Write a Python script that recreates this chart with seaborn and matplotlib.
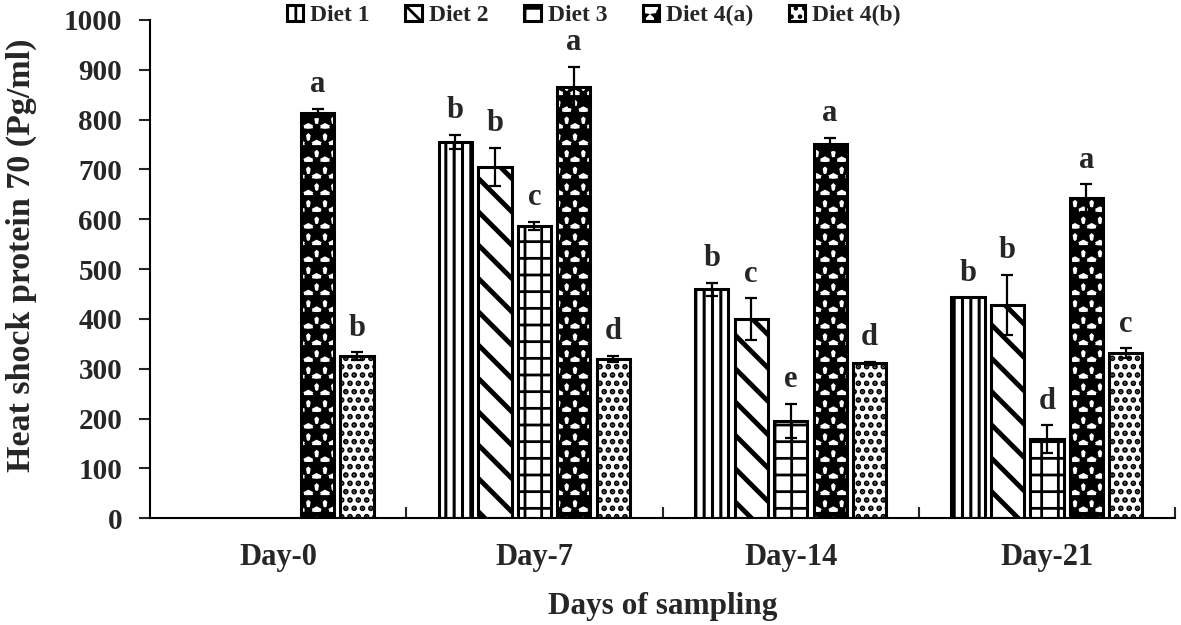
import numpy as np
import pandas as pd
import matplotlib
matplotlib.use("Agg")
import matplotlib.pyplot as plt
import seaborn as sns

# data
days = ["Day-0", "Day-7", "Day-14", "Day-21"]
diets = ["Diet 1", "Diet 2", "Diet 3", "Diet 4(a)", "Diet 4(b)"]

diet1 = [np.nan, 755, 459, 443]
diet2 = [np.nan, 705, 399, 428]
diet3 = [np.nan, 587, 195, 158]
diet4a = [813, 866, 751, 642]
diet4b = [325, 320, 311, 331]

diet1_err = [np.nan, 14, 14, 0]
diet2_err = [np.nan, 39, 42, 61]
diet3_err = [np.nan, 8, 35, 28]
diet4a_err = [8, 40, 12, 28]
diet4b_err = [8, 6, 3, 10]

diet1_lab = ["", "b", "b", "b"]
diet2_lab = ["", "b", "c", "b"]
diet3_lab = ["", "c", "e", "d"]
diet4a_lab = ["a", "a", "a", "a"]
diet4b_lab = ["b", "d", "d", "c"]

values = [diet1, diet2, diet3, diet4a, diet4b]
errors = [diet1_err, diet2_err, diet3_err, diet4a_err, diet4b_err]
letters = [diet1_lab, diet2_lab, diet3_lab, diet4a_lab, diet4b_lab]
hatches = ["||", "\\", "+", "*", ".."]
hatch_lw = [2.2, 3.5, 2.0, 4.5, 2.8]

rows = []
for d, vals in zip(diets, values):
    for day, v in zip(days, vals):
        rows.append({"day": day, "diet": d, "value": v})
df = pd.DataFrame(rows)

sns.set_theme(style="ticks")
plt.rcParams["font.family"] = ["Liberation Serif", "DejaVu Serif"]
plt.rcParams["font.weight"] = "bold"
plt.rcParams["hatch.linewidth"] = 2.0
plt.rcParams["hatch.color"] = "black"

fig, ax = plt.subplots(figsize=(11.81, 6.25), dpi=100)
fig.subplots_adjust(left=0.127, right=0.995, bottom=0.171, top=0.968)

sns.barplot(
    data=df, x="day", y="value", hue="diet",
    order=days, hue_order=diets,
    width=0.77, gap=0.16, errorbar=None,
    palette=["white"] * 5,
    edgecolor="black", linewidth=2.2, ax=ax,
)

bar_groups = list(ax.containers)
for i, cont in enumerate(bar_groups):
    for bar in cont:
        bar.set_hatch(hatches[i])
        bar.set_edgecolor("black")
        if hasattr(bar, "set_hatch_linewidth"):
            bar.set_hatch_linewidth(hatch_lw[i])
        cx = bar.get_x() + bar.get_width() / 2
        j = int(round(cx))
        v = values[i][j]
        e = errors[i][j]
        if np.isnan(v):
            continue
        if e > 0:
            ax.errorbar(cx, v, yerr=e, fmt="none", ecolor="black",
                        elinewidth=1.6, capsize=4.5, capthick=1.6, zorder=5)
        ax.annotate(letters[i][j], (cx, v + e), xytext=(0, 7),
                    textcoords="offset points", ha="center", va="bottom",
                    fontsize=22, fontweight="bold")

ax.set_ylim(0, 1000)
ax.set_xlim(-0.5, 3.5)
ax.set_yticks(range(0, 1001, 100))
ax.tick_params(axis="y", labelsize=21, length=8, width=1.5, pad=12)
ax.tick_params(axis="x", which="major", labelsize=22, length=0, pad=18)
ax.set_xticks([0.5, 1.5, 2.5, 3.5], minor=True)
ax.tick_params(axis="x", which="minor", direction="in", length=8, width=1.5)
for lab in ax.get_xticklabels() + ax.get_yticklabels():
    lab.set_fontweight("bold")

ax.set_xlabel("Days of sampling", fontsize=22.5, fontweight="bold", labelpad=14)
ax.set_ylabel("Heat shock protein 70 (Pg/ml)", fontsize=24.5, fontweight="bold")
ax.yaxis.set_label_coords(-0.11, 0.528)

sns.despine(ax=ax)
for s in ["left", "bottom"]:
    ax.spines[s].set_linewidth(1.5)
    ax.spines[s].set_color("black")

# rebuild legend so the handles carry the hatches
handles = [cont.patches[-1] for cont in bar_groups]
ax.legend(
    handles, diets,
    loc="upper center", bbox_to_anchor=(0.433, 1.05), ncol=5, frameon=False,
    prop={"size": 17, "weight": "bold"}, handlelength=0.7, handleheight=0.7,
    handletextpad=0.3, columnspacing=1.5, borderaxespad=0,
)

fig.savefig("out.png", dpi=100)
